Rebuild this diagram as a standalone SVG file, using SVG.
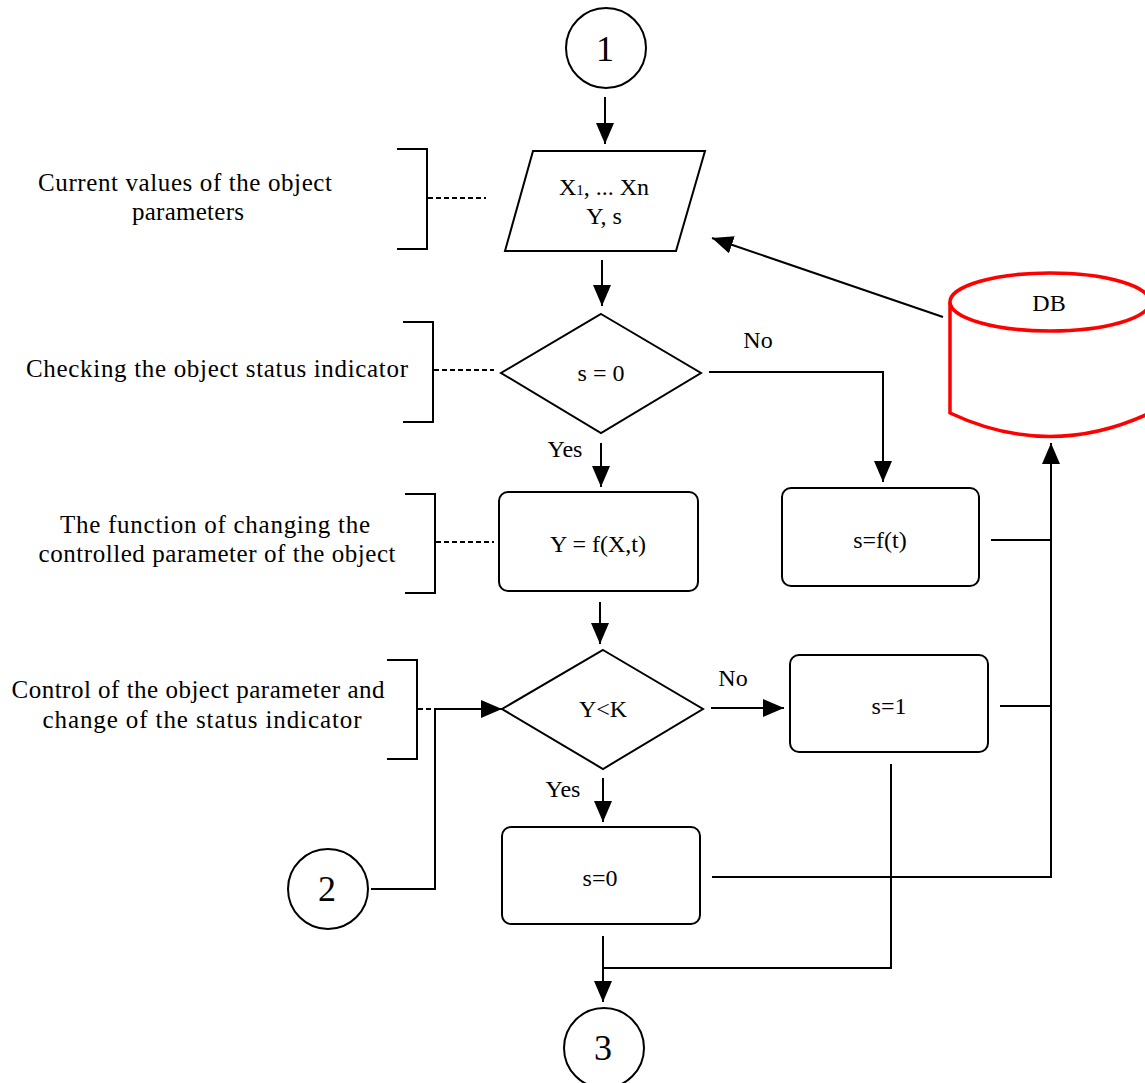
<svg xmlns="http://www.w3.org/2000/svg" width="1145" height="1083" viewBox="0 0 1145 1083">
<style>
  .ln{fill:none;stroke:#000;stroke-width:2}
  .dash{fill:none;stroke:#000;stroke-width:2;stroke-dasharray:5,3}
  .shape{fill:#fff;stroke:#000;stroke-width:2}
  .tc{font-family:"Liberation Serif","Times New Roman",serif;font-size:24px;fill:#000;text-anchor:middle}
  .lab{font-family:"Liberation Serif","Times New Roman",serif;font-size:25px;fill:#000;text-anchor:middle}
  .num{font-family:"Liberation Serif","Times New Roman",serif;font-size:36px;fill:#000;text-anchor:middle}
</style>
<defs>
  <marker id="ah" markerWidth="22" markerHeight="18" refX="21" refY="9" orient="auto" markerUnits="userSpaceOnUse">
    <path d="M0,0 L21,9 L0,18 z" fill="#000"/>
  </marker>
</defs>
<rect width="1145" height="1083" fill="#fff"/>

<g id="connectors">
  <path class="ln" d="M605,97 V144" marker-end="url(#ah)"/>
  <path class="ln" d="M602,260 V306" marker-end="url(#ah)"/>
  <path class="ln" d="M601,443 V487" marker-end="url(#ah)"/>
  <path class="ln" d="M709,372 H883 V482" marker-end="url(#ah)"/>
  <path class="ln" d="M600,602 V644" marker-end="url(#ah)"/>
  <path class="ln" d="M711,708 H784" marker-end="url(#ah)"/>
  <path class="ln" d="M603,778 V822" marker-end="url(#ah)"/>
  <path class="ln" d="M943,317 L712,238" marker-end="url(#ah)"/>
  <path class="ln" d="M712,877 H1051 V443" marker-end="url(#ah)"/>
  <path class="ln" d="M991,540 H1051"/>
  <path class="ln" d="M1000,706 H1051"/>
  <path class="ln" d="M891,764 V968 H603"/>
  <path class="ln" d="M603,936 V1002" marker-end="url(#ah)"/>
  <path class="ln" d="M371,889 H435 V709 H480"/>
  <path class="ln" d="M480,709 H502" marker-end="url(#ah)"/>
  <path class="ln" d="M397,149 H427 V249 H397"/>
  <path class="dash" d="M428,198 H486"/>
  <path class="ln" d="M403,322 H433 V422 H403"/>
  <path class="dash" d="M434,370 H494"/>
  <path class="ln" d="M405,494 H435 V593 H405"/>
  <path class="dash" d="M436,542 H494"/>
  <path class="ln" d="M387,660 H417 V759 H387"/>
  <path class="dash" d="M418,709 H482"/>
</g>

<g id="n-start">
  <circle class="shape" cx="606" cy="48" r="40"/>
  <text class="num" x="605" y="61">1</text>
</g>

<g id="n-input">
  <polygon class="shape" points="533,151 705,151 676,251 505,251"/>
  <text class="tc" x="604" y="195">X<tspan font-size="15">1</tspan>, ... Xn</text>
  <text class="tc" x="604" y="224">Y, s</text>
</g>

<g id="n-check-s">
  <polygon class="shape" points="601,314 701,373 601,433 501,373"/>
  <text class="tc" x="601" y="381">s = 0</text>
  <text class="tc" x="565" y="457">Yes</text>
  <text class="tc" x="758" y="348">No</text>
</g>

<g id="n-func">
  <rect class="shape" x="499" y="492" width="199" height="99" rx="9"/>
  <text class="tc" x="598" y="552">Y = f(X,t)</text>
</g>

<g id="n-sft">
  <rect class="shape" x="782" y="488" width="197" height="98" rx="9"/>
  <text class="tc" x="880" y="548">s=f(t)</text>
</g>

<g id="n-check-y">
  <polygon class="shape" points="603,650 703,709 603,769 502,709"/>
  <text class="tc" x="603" y="717">Y&lt;K</text>
  <text class="tc" x="733" y="686">No</text>
  <text class="tc" x="563" y="797">Yes</text>
</g>

<g id="n-s1">
  <rect class="shape" x="790" y="655" width="198" height="97" rx="9"/>
  <text class="tc" x="889" y="714">s=1</text>
</g>

<g id="n-s0">
  <rect class="shape" x="502" y="827" width="198" height="97" rx="9"/>
  <text class="tc" x="600" y="886">s=0</text>
</g>

<g id="n-db">
  <path d="M950,302 V413 Q1050,460 1150,413 V302" fill="#fff" stroke="#f00" stroke-width="3.5"/>
  <ellipse cx="1050" cy="302" rx="100" ry="29" fill="#fff" stroke="#f00" stroke-width="3.5"/>
  <text class="tc" x="1049" y="311">DB</text>
</g>

<g id="n-conn2">
  <circle class="shape" cx="328" cy="889" r="40"/>
  <text class="num" x="327" y="901">2</text>
</g>

<g id="n-conn3">
  <circle class="shape" cx="604" cy="1048" r="40"/>
  <text class="num" x="603" y="1060">3</text>
</g>

<g id="labels">
  <text class="lab" x="185" y="191" textLength="294" lengthAdjust="spacing">Current values of the object</text>
  <text class="lab" x="188" y="220" textLength="112" lengthAdjust="spacing">parameters</text>
  <text class="lab" x="217" y="377" textLength="382" lengthAdjust="spacing">Checking the object status indicator</text>
  <text class="lab" x="215" y="533" textLength="310" lengthAdjust="spacing">The function of changing the</text>
  <text class="lab" x="217" y="562" textLength="357" lengthAdjust="spacing">controlled parameter of the object</text>
  <text class="lab" x="198" y="698" textLength="373" lengthAdjust="spacing">Control of the object parameter and</text>
  <text class="lab" x="202" y="728" textLength="319" lengthAdjust="spacing">change of the status indicator</text>
</g>
</svg>
